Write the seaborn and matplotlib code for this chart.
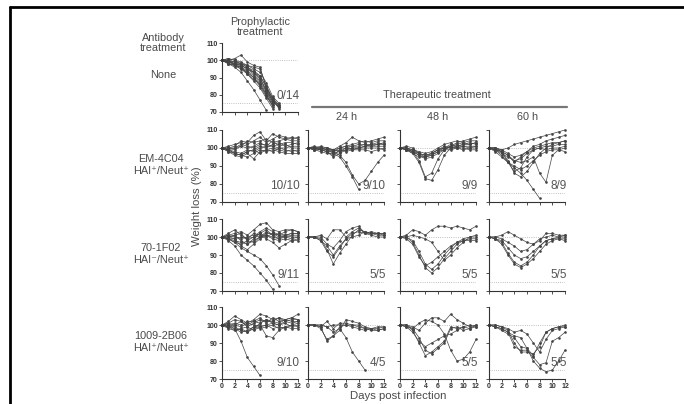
import numpy as np
import pandas as pd
import matplotlib
matplotlib.use("Agg")
import matplotlib.pyplot as plt
import seaborn as sns
from matplotlib.lines import Line2D

N = np.nan
days = list(range(13))

# body weight (% of day 0) per mouse; a curve stops when the mouse died
none_proph = [
    [100, 100, 101, 103, 99, 97, 96, 84, 76, 73],
    [100, 99, 98, 97, 95, 93, 90, 82, 75],
    [100, 98, 97, 95, 92, 88, 84, 78, 72],
    [100, 99, 99, 98, 96, 94, 91, 85, 78, 74],
    [100, 100, 97, 96, 93, 90, 86, 80, 74],
    [100, 98, 96, 93, 88, 83, 77, 71],
    [100, 100, 99, 98, 97, 96, 95, 85, 77, 74],
    [100, 101, 100, 98, 96, 93, 89, 83, 76, 73],
    [100, 99, 98, 96, 94, 91, 87, 81, 75],
    [100, 100, 99, 97, 95, 92, 88, 82, 77, 72],
    [100, 99, 97, 95, 93, 90, 85, 79, 74],
    [100, 101, 100, 99, 97, 95, 93, 87, 79, 75],
    [100, 98, 97, 96, 92, 89, 86, 80, 73],
    [100, 100, 98, 97, 95, 93, 91, 84, 78, 73],
]

em_proph = [
    [100, 100, 101, 104, 103, 107, 109, 104, 108, 106, 105, 106, 105],
    [100, 99, 97, 96, 98, 99, 101, 100, 102, 103, 101, 102, 103],
    [100, 98, 96, 95, 97, 94, 98, 99, 100, 99, 98, 99, 98],
    [100, 100, 99, 101, 104, 103, 104, 105, 103, 104, 105, 104, 104],
    [100, 99, 98, 97, 99, 98, 100, 101, 101, 100, 100, 101, 101],
    [100, 101, 102, 103, 102, 104, 106, 103, 105, 107, 106, 105, 106],
    [100, 98, 97, 96, 95, 97, 99, 98, 99, 98, 97, 97, 97],
    [100, 100, 100, 102, 101, 100, 102, 102, 101, 102, 103, 103, 102],
    [100, 99, 100, 101, 100, 101, 103, 101, 104, 101, 102, 100, 100],
    [100, 99, 97, 96, 98, 99, 97, 99, 98, 100, 99, 98, 99],
]
em_24h = [
    [100, 100, 100, 99, 98, 96, 92, 85, 80, 82, 87, 92, 96],
    [100, 100, 99, 99, 97, 95, 90, 84, 77],
    [100, 100, 101, 100, 99, 101, 103, 106, 104, 103, 104, 105, 106],
    [100, 99, 100, 100, 98, 100, 101, 102, 103, 104, 103, 104, 104],
    [100, 100, 99, 98, 96, 99, 100, 101, 101, 102, 102, 103, 102],
    [100, 99, 98, 97, 97, 98, 99, 100, 100, 101, 101, 101, 101],
    [100, 100, 100, 99, 99, 98, 100, 99, 100, 100, 100, 100, 99],
    [100, 101, 100, 100, 99, 100, 101, 101, 102, 102, 101, 102, 103],
    [100, 100, 99, 98, 98, 99, 98, 99, 99, 99, 98, 99, 100],
    [100, 99, 99, 98, 95, 97, 99, 100, 100, 101, 102, 102, 102],
]
em_48h = [
    [100, 99, 97, 92, 83, 82, 88, 96, 100, 101, 102, 102, 103],
    [100, 100, 98, 93, 84, 86, 94, 99, 101, 102, 103, 102, 103],
    [100, 99, 98, 96, 94, 95, 97, 99, 101, 103, 104, 105, 106],
    [100, 101, 100, 97, 95, 96, 98, 100, 102, 101, 102, 103, 102],
    [100, 100, 99, 97, 96, 97, 99, 101, 100, 100, 101, 101, 101],
    [100, 99, 98, 96, 95, 96, 98, 99, 99, 100, 99, 100, 100],
    [100, 100, 99, 98, 97, 98, 100, 102, 103, 104, 103, 104, 104],
    [100, 99, 97, 95, 95, 97, 99, 100, 101, 100, 100, 99, 99],
    [100, 100, 98, 97, 96, 97, 99, 100, 100, 101, 101, 100, 101],
]
em_60h = [
    [100, 100, 99, 100, 102, 103, 104, 105, 106, 107, 108, 109, 110],
    [100, 99, 98, 96, 92, 95, 98, 101, 102, 104, 105, 106, 107],
    [100, 100, 98, 93, 86, 84, 87, 92, 97, 100, 102, 103, 104],
    [100, 99, 96, 92, 89, 86, 82, 77, 72],
    [100, 99, 97, 95, 93, 92, 93, 95, 86, 81, 96, 99, 100],
    [100, 100, 98, 92, 87, 89, 95, 99, 100, 101, 101, 102, 102],
    [100, 99, 98, 96, 93, 94, 97, 99, 100, 99, 100, 100, 101],
    [100, 100, 99, 97, 95, 96, 98, 100, 101, 102, 103, 103, 104],
    [100, 98, 95, 92, 90, 88, 90, 93, 96, 98, 99, 99, 98],
]

f02_proph = [
    [100, 98, 95, 90, 87, 84, 80, 76, 71],
    [100, 99, 97, 94, 92, 90, 88, 84, 79, 73],
    [100, 101, 102, 103, 101, 104, 107, 108, 104, 103, 104, 104, 103],
    [100, 100, 101, 98, 96, 99, 102, 104, 101, 99, 101, 102, 102],
    [100, 99, 97, 96, 98, 100, 103, 105, 103, 101, 103, 104, 103],
    [100, 102, 104, 101, 99, 102, 101, 99, 97, 94, 96, 98, 99],
    [100, 100, 99, 95, 93, 96, 99, 101, 100, 99, 100, 101, 101],
    [100, 99, 98, 97, 96, 98, 100, 102, 102, 100, 101, 100, 100],
    [100, 101, 100, 99, 100, 101, 100, 103, 101, 102, 101, 102, 102],
    [100, 100, 101, 102, 98, 97, 100, 101, 99, 98, 99, 98, 98],
    [100, 99, 99, 100, 99, 100, 102, 100, 102, 101, 100, 99, 100],
]
f02_24h = [
    [100, 100, 99, 93, 85, 91, 96, 101, 104, 103, 102, 102, 101],
    [100, 100, 98, 92, 89, 94, 99, 102, 103, 102, 102, 101, 101],
    [100, 100, 100, 96, 94, 98, 103, 105, 106, 102, 103, 102, 102],
    [100, 100, 101, 99, 104, 104, 100, 103, 105, 102, 101, 100, 100],
    [100, 100, 98, 95, 90, 95, 99, 100, 101, 103, 102, 102, 102],
]
f02_48h = [
    [100, 100, 97, 90, 83, 80, 83, 88, 92, 96, 98, 99, 99],
    [100, 100, 98, 92, 85, 82, 85, 90, 94, 97, 98, 98, 98],
    [100, 101, 104, 103, 101, 104, 106, 106, 105, 106, 105, 104, 106],
    [100, 100, 101, 100, 99, 97, 92, 87, 90, 94, 97, 100, 101],
    [100, 99, 96, 89, 84, 86, 89, 92, 95, 97, 99, 100, 100],
]
f02_60h = [
    [100, 100, 101, 103, 101, 99, 97, 96, 98, 102, 102, 101, 101],
    [100, 99, 97, 91, 86, 84, 86, 90, 95, 98, 99, 100, 100],
    [100, 99, 96, 90, 85, 83, 85, 88, 92, 96, 98, 99, 98],
    [100, 99, 98, 94, 90, 88, 89, 92, 95, 98, 99, 99, 99],
    [100, 100, 99, 97, 95, 92, 93, 96, 99, 100, 101, 100, 101],
]

b06_proph = [
    [100, 100, 98, 91, 82, 77, 72],
    [100, 102, 105, 103, 101, 103, 106, 105, 103, 104, 103, 104, 106],
    [100, 101, 103, 102, 100, 102, 104, 101, 104, 102, 103, 104, 103],
    [100, 99, 98, 96, 97, 99, 100, 94, 93, 97, 99, 100, 101],
    [100, 100, 99, 97, 96, 98, 101, 103, 101, 100, 102, 101, 102],
    [100, 98, 97, 98, 99, 97, 99, 100, 98, 99, 98, 100, 99],
    [100, 101, 100, 102, 99, 101, 103, 102, 102, 104, 102, 103, 103],
    [100, 99, 100, 99, 101, 100, 99, 100, 101, 100, 101, 99, 100],
    [100, 100, 101, 100, 102, 102, 101, 103, 102, 101, 103, 102, 102],
    [100, 99, 97, 98, 96, 99, 98, 99, 100, 98, 99, 98, 98],
]
b06_24h = [
    [100, 100, 99, 91, 94, 97, 103, 102, 101, 99, 98, 99, 99],
    [100, 100, 99, 102, 98, 101, 101, 100, 100, 98, 98, 97, 98],
    [100, 100, 100, 99, 96, 98, 93, 85, 80, 75],
    [100, 100, 98, 92, 94, 99, 100, 100, 99, 98, 97, 97, 98],
    [100, 100, 100, 99, 100, 100, 100, 99, 98, 97, 98, 98, 99],
]
b06_48h = [
    [100, 100, 97, 90, 83, 85, 88, 91, 99, 98, 99, 100, 99],
    [100, 100, 98, 93, 86, 84, 87, 90, 98, 99, 97, 98, 99],
    [100, 100, 99, 97, 101, 104, 104, 102, 106, 103, 101, 99, 100],
    [100, 99, 98, 101, 103, 102, 100, 95, 86, 80, 81, 85, 92],
    [100, 99, 96, 91, 88, 90, 92, 94, 95, 97, 99, 98, 100],
]
b06_60h = [
    [100, 99, 98, 96, 94, 93, 87, 80, 76, 74, 75, 80, 86],
    [100, 99, 98, 96, 88, 86, 86, 82, 78, 79, 91, 93, 96],
    [100, 100, 99, 97, 90, 85, 85, 84, 88, 96, 98, 99, 100],
    [100, 99, 97, 95, 93, 88, 87, 83, 90, 96, 98, 99, 99],
    [100, 100, 99, 98, 96, 97, 95, 90, 85, 92, 97, 98, 99],
]

row_labels = ["None", "EM-4C04\nHAI\u207a/Neut\u207a",
              "70-1F02\nHAI\u207b/Neut\u207a", "1009-2B06\nHAI\u207a/Neut\u207a"]
col_labels = ["24 h", "48 h", "60 h"]
survival = [["0/14"], ["10/10", "9/10", "9/9", "8/9"],
            ["9/11", "5/5", "5/5", "5/5"], ["9/10", "4/5", "5/5", "5/5"]]
panels = [[none_proph],
          [em_proph, em_24h, em_48h, em_60h],
          [f02_proph, f02_24h, f02_48h, f02_60h],
          [b06_proph, b06_24h, b06_48h, b06_60h]]


def to_frame(curves):
    rows = []
    for m, w in enumerate(curves):
        for d, v in zip(days, w):
            rows.append((m, d, v))
    return pd.DataFrame(rows, columns=["mouse", "day", "weight"]).dropna()


sns.set_theme(style="ticks")
plt.rcParams["font.family"] = ["Liberation Sans", "DejaVu Sans"]

W, H = 684, 404
fig = plt.figure(figsize=(W / 100, H / 100), dpi=100)

col_x = [222, 308, 400, 489]
row_bottom = [112, 202, 291, 379]
ax_w, ax_h = 76, 72
line_c = "#444444"
text_c = "#4a4a4a"

for r, row in enumerate(panels):
    for c, curves in enumerate(row):
        h = 69 if r == 0 else ax_h
        ax = fig.add_axes([col_x[c] / W, 1 - row_bottom[r] / H, ax_w / W, h / H])
        ax.axhline(100, ls=":", color="#aaaaaa", lw=0.6)
        ax.axhline(75, ls=":", color="#aaaaaa", lw=0.6)
        sns.lineplot(data=to_frame(curves), x="day", y="weight", units="mouse",
                     estimator=None, color=line_c, lw=0.5, marker="o",
                     markersize=1.9, markeredgewidth=0, ax=ax, clip_on=False)
        ax.set_xlim(0, 12)
        ax.set_ylim(70, 110)
        ax.set_xticks(range(0, 13, 2))
        ax.set_yticks(range(70, 111, 10))
        ax.set_xlabel("")
        ax.set_ylabel("")
        sns.despine(ax=ax)
        for s in ("left", "bottom"):
            ax.spines[s].set_color("#333333")
            ax.spines[s].set_linewidth(0.8)
        ax.tick_params(length=2, width=0.6, labelsize=5, pad=1, colors="#333333")
        if c != 0:
            ax.set_yticklabels([])
        if r != 3:
            ax.set_xticklabels([])
        for lbl in ax.get_xticklabels() + ax.get_yticklabels():
            lbl.set_fontweight("bold")
        ax.text(12.3, 75.8, survival[r][c], ha="right", va="bottom",
                fontsize=8.5, color="#555555")


def ftext(x, y, s, **kw):
    kw.setdefault("fontsize", 7.8)
    kw.setdefault("color", text_c)
    fig.text(x / W, 1 - y / H, s, ha="center", va="center", **kw)


ftext(260, 27, "Prophylactic\ntreatment", linespacing=1.0)
ftext(163, 43, "Antibody\ntreatment", linespacing=1.05)
ftext(163, 75, row_labels[0])
for y, lbl in zip([165, 254, 342], row_labels[1:]):
    ftext(161, y, lbl, linespacing=1.15)
ftext(437, 95, "Therapeutic treatment")
fig.add_artist(Line2D([312 / W, 567 / W], [1 - 107 / H] * 2,
                      transform=fig.transFigure, color="#777777", lw=1.6))
for x, lbl in zip([347, 438, 528], col_labels):
    ftext(x, 117, lbl)
ftext(197, 206, "Weight loss (%)", rotation=90, fontsize=8.2)
ftext(398, 396, "Days post infection", fontsize=8.2)

# screenshot frame on the left and top edges
fig.add_artist(Line2D([10 / W, 10 / W], [0, 1 - 7 / H],
                      transform=fig.transFigure, color="black", lw=2))
fig.add_artist(Line2D([10 / W, 1], [1 - 7 / H] * 2,
                      transform=fig.transFigure, color="black", lw=2))

fig.savefig("out.png", dpi=100)
